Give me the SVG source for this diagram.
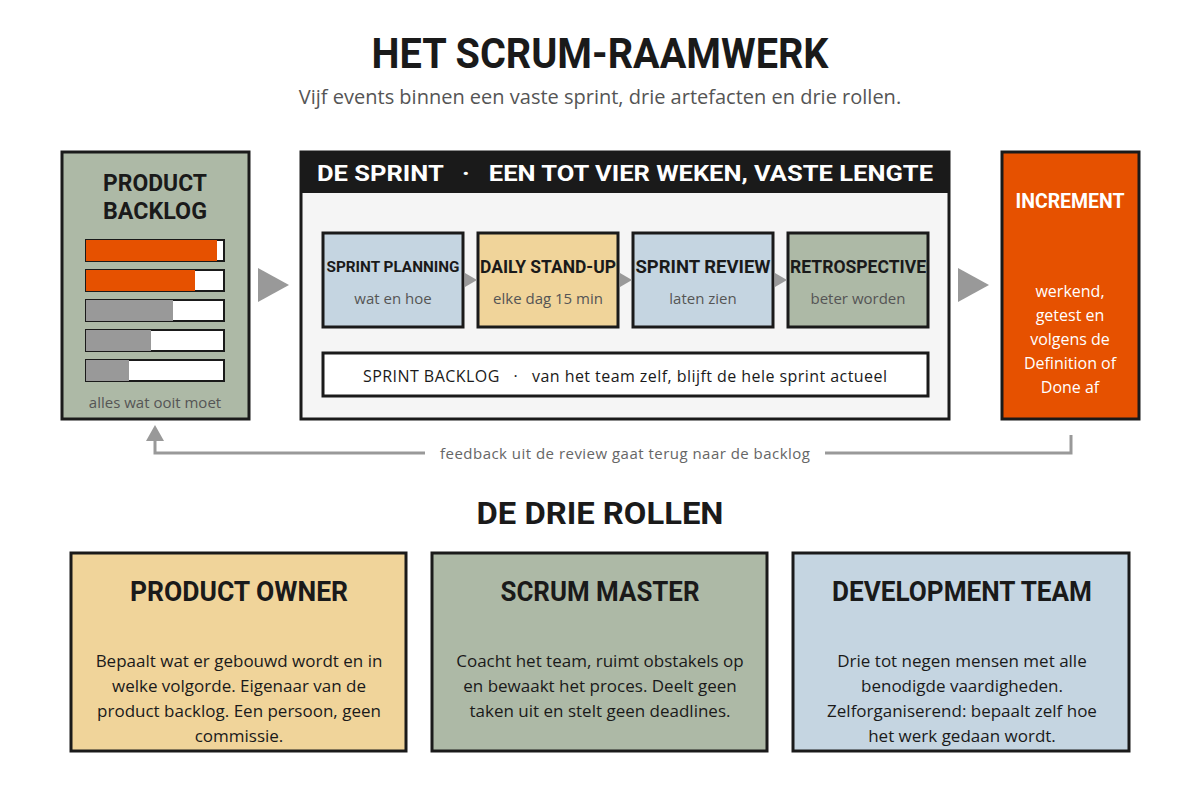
<svg xmlns="http://www.w3.org/2000/svg" width="1200" height="800" viewBox="0 0 1200 800">
<style>
.h{font-family:"Liberation Sans Narrow","Roboto","Liberation Sans",sans-serif;font-weight:bold;fill:#1a1a1a;text-anchor:middle}
.b{font-family:"Open Sans","Noto Sans",sans-serif;text-anchor:middle}
.box{stroke:#1a1a1a;stroke-width:3}
.bar{fill:#fff;stroke:#1a1a1a;stroke-width:2}
.tri{fill:#999}
</style>
<rect width="1200" height="800" fill="#fff"/>
<text class="h" x="600" y="68" font-size="42" textLength="457" lengthAdjust="spacingAndGlyphs">HET SCRUM-RAAMWERK</text>
<text class="b" x="600" y="104" font-size="20" fill="#555">Vijf events binnen een vaste sprint, drie artefacten en drie rollen.</text>

<g id="product-backlog">
<rect class="box" x="62" y="152" width="187" height="267" fill="#adb9a6"/>
<text class="h" x="155" y="191" font-size="23" textLength="104" lengthAdjust="spacingAndGlyphs">PRODUCT</text>
<text class="h" x="155" y="219" font-size="23" textLength="104" lengthAdjust="spacingAndGlyphs">BACKLOG</text>
<rect class="bar" x="86" y="240" width="138" height="21"/><rect x="86" y="240" width="131" height="21" fill="#e65100"/>
<rect class="bar" x="86" y="270" width="138" height="21"/><rect x="86" y="270" width="109" height="21" fill="#e65100"/>
<rect class="bar" x="86" y="300" width="138" height="21"/><rect x="86" y="300" width="87" height="21" fill="#999"/>
<rect class="bar" x="86" y="330" width="138" height="21"/><rect x="86" y="330" width="65" height="21" fill="#999"/>
<rect class="bar" x="86" y="360" width="138" height="21"/><rect x="86" y="360" width="43" height="21" fill="#999"/>
<text class="b" x="155" y="408" font-size="15" fill="#555">alles wat ooit moet</text>
</g>

<g id="sprint">
<rect class="box" x="301" y="152" width="648" height="267" fill="#f5f5f5"/>
<rect x="301" y="152" width="648" height="41" fill="#1a1a1a"/>
<text x="317" y="181" font-size="22" font-family="Liberation Sans Narrow,Roboto,Liberation Sans,sans-serif" font-weight="bold" fill="#fff" textLength="616" lengthAdjust="spacingAndGlyphs" xml:space="preserve">DE SPRINT   ·   EEN TOT VIER WEKEN, VASTE LENGTE</text>
</g>
<g id="sprint-planning"><rect class="box" x="323" y="233" width="140" height="94" fill="#c5d5e1"/><text class="h" x="393" y="272" font-size="15" textLength="133" lengthAdjust="spacingAndGlyphs">SPRINT PLANNING</text><text class="b" x="393" y="304" font-size="15" fill="#555">wat en hoe</text></g>
<g id="daily-standup"><rect class="box" x="478" y="233" width="140" height="94" fill="#f0d49a"/><text class="h" x="548" y="273" font-size="18" textLength="136" lengthAdjust="spacingAndGlyphs">DAILY STAND-UP</text><text class="b" x="548" y="304" font-size="15" fill="#555">elke dag 15 min</text></g>
<g id="sprint-review"><rect class="box" x="633" y="233" width="140" height="94" fill="#c5d5e1"/><text class="h" x="703" y="273" font-size="18" textLength="135" lengthAdjust="spacingAndGlyphs">SPRINT REVIEW</text><text class="b" x="703" y="304" font-size="15" fill="#555">laten zien</text></g>
<g id="retrospective"><rect class="box" x="788" y="233" width="140" height="94" fill="#adb9a6"/><text class="h" x="858" y="273" font-size="18" textLength="136" lengthAdjust="spacingAndGlyphs">RETROSPECTIVE</text><text class="b" x="858" y="304" font-size="15" fill="#555">beter worden</text></g>
<g id="sprint-backlog"><rect class="box" x="323" y="353" width="605" height="43" fill="#fff"/><text class="b" x="625" y="382" font-size="16" fill="#1a1a1a" textLength="524" xml:space="preserve">SPRINT BACKLOG   ·   van het team zelf, blijft de hele sprint actueel</text></g>

<g id="increment">
<rect class="box" x="1002" y="152" width="137" height="267" fill="#e65100"/>
<text x="1070" y="208" font-size="20" font-family="Liberation Sans Narrow,Roboto,Liberation Sans,sans-serif" font-weight="bold" fill="#fff" text-anchor="middle" textLength="109" lengthAdjust="spacingAndGlyphs">INCREMENT</text>
<g class="b" font-size="16" fill="#fff">
<text x="1070" y="297">werkend,</text><text x="1070" y="321">getest en</text><text x="1070" y="345">volgens de</text><text x="1070" y="369">Definition of</text><text x="1070" y="393">Done af</text></g>
</g>

<g id="connectors">
<polygon class="tri" points="258,268 289,285 258,302"/>
<polygon class="tri" points="958,268 989,285 958,302"/>
<polygon class="tri" points="465,273 477,280 465,287"/>
<polygon class="tri" points="620,273 632,280 620,287"/>
<polygon class="tri" points="775,273 787,280 775,287"/>
<polyline points="1071,435 1071,453 825,453" fill="none" stroke="#999" stroke-width="3"/>
<polyline points="425,453 155,453 155,430" fill="none" stroke="#999" stroke-width="3"/>
<polygon class="tri" points="146,441 155,425 164,441"/>
<text class="b" x="625" y="459" font-size="15" fill="#666" textLength="370">feedback uit de review gaat terug naar de backlog</text>
</g>

<text class="h" x="600" y="524" font-size="32" textLength="247" lengthAdjust="spacingAndGlyphs">DE DRIE ROLLEN</text>

<g id="product-owner"><rect class="box" x="71" y="553" width="335" height="198" fill="#f0d49a"/><text class="h" x="239" y="601" font-size="27" textLength="218" lengthAdjust="spacingAndGlyphs">PRODUCT OWNER</text>
<g class="b" font-size="17" fill="#1a1a1a"><text x="239" y="667">Bepaalt wat er gebouwd wordt en in</text><text x="239" y="692">welke volgorde. Eigenaar van de</text><text x="239" y="717">product backlog. Een persoon, geen</text><text x="239" y="742">commissie.</text></g></g>
<g id="scrum-master"><rect class="box" x="432" y="553" width="335" height="198" fill="#adb9a6"/><text class="h" x="600" y="601" font-size="27" textLength="199" lengthAdjust="spacingAndGlyphs">SCRUM MASTER</text>
<g class="b" font-size="17" fill="#1a1a1a"><text x="600" y="667">Coacht het team, ruimt obstakels op</text><text x="600" y="692">en bewaakt het proces. Deelt geen</text><text x="600" y="717">taken uit en stelt geen deadlines.</text></g></g>
<g id="development-team"><rect class="box" x="793" y="553" width="336" height="198" fill="#c5d5e1"/><text class="h" x="962" y="601" font-size="27" textLength="260" lengthAdjust="spacingAndGlyphs">DEVELOPMENT TEAM</text>
<g class="b" font-size="17" fill="#1a1a1a"><text x="962" y="667">Drie tot negen mensen met alle</text><text x="962" y="692">benodigde vaardigheden.</text><text x="962" y="717">Zelforganiserend: bepaalt zelf hoe</text><text x="962" y="742">het werk gedaan wordt.</text></g></g>
</svg>
